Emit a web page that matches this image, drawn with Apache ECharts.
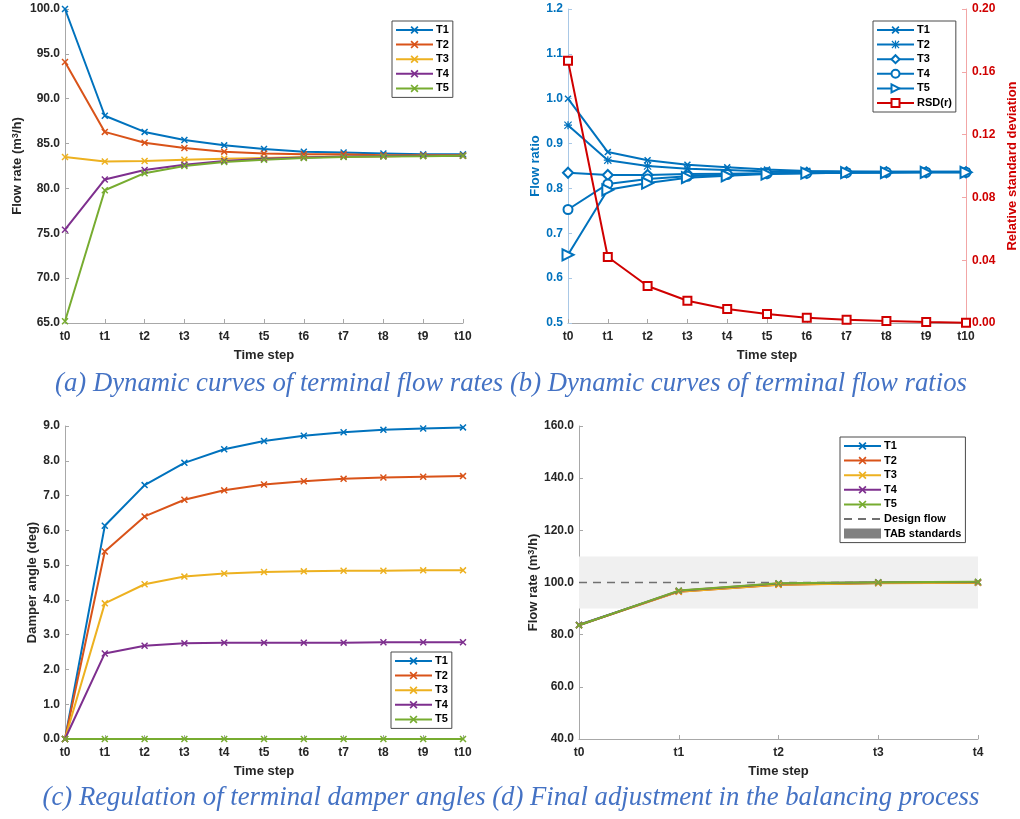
<!DOCTYPE html>
<html>
<head>
<meta charset="utf-8">
<title>Terminal flow balancing</title>
<script src="https://cdn.jsdelivr.net/npm/echarts@6/dist/echarts.min.js"></script>
<style>
  html, body { margin: 0; padding: 0; background: #fff; }
  #chart { width: 1020px; height: 819px; }
</style>
</head>
<body>
<div id="chart"></div>
<script>
// ---- categories ----
const steps = ['t0', 't1', 't2', 't3', 't4', 't5', 't6', 't7', 't8', 't9', 't10'];
const stepsFinal = ['t0', 't1', 't2', 't3', 't4'];
const terminals = ['T1', 'T2', 'T3', 'T4', 'T5'];

// ---- (a) terminal flow rates, m3/h ----
const flowT1 = [100.0, 88.1, 86.3, 85.4, 84.8, 84.4, 84.1, 84.0, 83.9, 83.8, 83.8];
const flowT2 = [94.1, 86.3, 85.1, 84.5, 84.1, 83.9, 83.8, 83.8, 83.7, 83.7, 83.7];
const flowT3 = [83.5, 83.0, 83.05, 83.2, 83.3, 83.4, 83.5, 83.55, 83.6, 83.65, 83.65];
const flowT4 = [75.4, 81.0, 82.05, 82.65, 83.05, 83.3, 83.45, 83.55, 83.6, 83.65, 83.65];
const flowT5 = [65.2, 79.8, 81.7, 82.5, 82.95, 83.2, 83.4, 83.5, 83.55, 83.6, 83.65];

// ---- (b) terminal flow ratios and their relative standard deviation ----
const ratioT1 = [1.000, 0.881, 0.863, 0.853, 0.847, 0.842, 0.839, 0.838, 0.837, 0.837, 0.837];
const ratioT2 = [0.941, 0.863, 0.850, 0.844, 0.841, 0.838, 0.838, 0.837, 0.837, 0.837, 0.837];
const ratioT3 = [0.835, 0.830, 0.830, 0.832, 0.833, 0.834, 0.835, 0.836, 0.836, 0.836, 0.836];
const ratioT4 = [0.753, 0.810, 0.821, 0.827, 0.831, 0.833, 0.834, 0.835, 0.836, 0.836, 0.836];
const ratioT5 = [0.652, 0.797, 0.812, 0.824, 0.828, 0.832, 0.834, 0.835, 0.835, 0.836, 0.836];
const rsd = [0.167, 0.042, 0.0236, 0.0142, 0.0089, 0.0057, 0.0034, 0.0021, 0.0013, 0.0006, 0.0002];

// ---- (c) damper angles, deg ----
const angleT1 = [0, 6.13, 7.30, 7.94, 8.33, 8.57, 8.72, 8.82, 8.89, 8.93, 8.96];
const angleT2 = [0, 5.39, 6.40, 6.88, 7.15, 7.32, 7.41, 7.48, 7.52, 7.54, 7.56];
const angleT3 = [0, 3.90, 4.45, 4.67, 4.76, 4.80, 4.82, 4.84, 4.84, 4.85, 4.85];
const angleT4 = [0, 2.46, 2.68, 2.75, 2.77, 2.77, 2.77, 2.77, 2.78, 2.78, 2.78];
const angleT5 = [0, 0, 0, 0, 0, 0, 0, 0, 0, 0, 0];

// ---- (d) final adjustment, m3/h ----
const finalT1 = [83.8, 96.6, 99.2, 99.8, 99.9];
const finalT2 = [83.7, 96.5, 99.1, 99.8, 99.9];
const finalT3 = [83.6, 96.5, 99.1, 99.7, 99.9];
const finalT4 = [83.6, 96.8, 99.6, 100.1, 100.2];
const finalT5 = [83.6, 96.9, 99.7, 100.1, 100.3];
const designFlow = [100, 100, 100, 100, 100];
const tabBand = [90, 110];

// ---- tick ranges ----
const flowAxis = { min: 65, max: 100, interval: 5 };
const ratioAxis = { min: 0.5, max: 1.2, interval: 0.1 };
const rsdAxis = { min: 0, max: 0.2, interval: 0.04 };
const angleAxis = { min: 0, max: 9, interval: 1 };
const finalAxis = { min: 40, max: 160, interval: 20 };

const colors = ['#0072BD', '#D95319', '#EDB120', '#7E2F8E', '#77AC30'];
const ratioBlue = '#0072BD';
const rsdRed = '#D00000';
const FONT = '"Liberation Sans", Arial, sans-serif';

const crossMark = 'path://M0,1.5L1.5,0L10,8.5L8.5,10ZM8.5,0L10,1.5L1.5,10L0,8.5Z';
const starMark = 'path://M0,4.2H10V5.8H0ZM4.2,0H5.8V10H4.2ZM1,0L10,9L9,10L0,1ZM9,0L10,1L1,10L0,9Z';

const grids = [
  { left: 65, top: 9, width: 398, height: 314 },
  { left: 568, top: 9, width: 399, height: 314 },
  { left: 65, top: 426, width: 398, height: 313 },
  { left: 579, top: 426, width: 399, height: 313 }
];

const labelStyle = { color: '#262626', fontWeight: 'bold', fontSize: 12, fontFamily: FONT };
const nameStyle = { color: '#262626', fontWeight: 'bold', fontSize: 13, fontFamily: FONT };
const supRich = {
  sup: { fontSize: 9, fontWeight: 'bold', fontFamily: FONT, color: '#262626', verticalAlign: 'top', lineHeight: 13 }
};

function xAxisCfg(gridIndex, cats) {
  return {
    type: 'category', gridIndex, data: cats, boundaryGap: false,
    axisLine: { show: true, lineStyle: { color: '#a8a8a8', width: 1 } },
    axisTick: { show: true, inside: true, length: 4, lineStyle: { color: '#a8a8a8' } },
    axisLabel: Object.assign({ margin: 8 }, labelStyle),
    splitLine: { show: false },
    name: 'Time step', nameLocation: 'middle', nameGap: 26, nameTextStyle: nameStyle
  };
}

function yAxisCfg(gridIndex, range, digits, name, gap, extra) {
  return Object.assign({
    type: 'value', gridIndex, min: range.min, max: range.max, interval: range.interval,
    axisLine: { show: true, lineStyle: { color: '#a8a8a8', width: 1 } },
    axisTick: { show: true, inside: true, length: 4, lineStyle: { color: '#a8a8a8' } },
    axisLabel: Object.assign({ margin: 5, formatter: v => v.toFixed(digits) }, labelStyle),
    splitLine: { show: false },
    name, nameLocation: 'middle', nameGap: gap,
    nameTextStyle: Object.assign({ rich: supRich }, nameStyle)
  }, extra || {});
}

function lineSeries(name, data, color, xi, yi, symbol, size, extra) {
  return Object.assign({
    type: 'line', name, data, xAxisIndex: xi, yAxisIndex: yi,
    color, symbol, symbolSize: size, showSymbol: true,
    lineStyle: { width: 2, color }, itemStyle: { color },
    animation: false, z: 3
  }, extra || {});
}

function legendCfg(names, left, top) {
  return {
    data: names, orient: 'vertical', left, top,
    backgroundColor: '#fff', borderColor: '#4a4a4a', borderWidth: 1,
    padding: [3.5, 4, 3.5, 3], itemGap: 3.6, itemWidth: 37, itemHeight: 10,
    formatter: n => n.slice(2),
    textStyle: { color: '#000', fontWeight: 'bold', fontSize: 11, lineHeight: 11, fontFamily: FONT, padding: [0, 0, 0, -2] },
    selectedMode: false
  };
}

const flowSets = [flowT1, flowT2, flowT3, flowT4, flowT5];
const ratioSets = [ratioT1, ratioT2, ratioT3, ratioT4, ratioT5];
const angleSets = [angleT1, angleT2, angleT3, angleT4, angleT5];
const finalSets = [finalT1, finalT2, finalT3, finalT4, finalT5];
const ratioMarks = [
  { symbol: crossMark, size: 7 },
  { symbol: starMark, size: 8 },
  { symbol: 'emptyDiamond', size: 10 },
  { symbol: 'emptyCircle', size: 9 },
  { symbol: 'emptyTriangle', size: 11, rotate: -90 }
];

const series = [];
// (a)
terminals.forEach((t, i) => series.push(lineSeries('a-' + t, flowSets[i], colors[i], 0, 0, crossMark, 7)));
// (b)
terminals.forEach((t, i) => series.push(lineSeries('b-' + t, ratioSets[i], ratioBlue, 1, 1,
  ratioMarks[i].symbol, ratioMarks[i].size, ratioMarks[i].rotate ? { symbolRotate: ratioMarks[i].rotate } : {})));
series.push(lineSeries('b-RSD(r)', rsd, rsdRed, 1, 2, 'emptyRect', 8, { z: 4 }));
// (c)
terminals.forEach((t, i) => series.push(lineSeries('c-' + t, angleSets[i], colors[i], 2, 3, crossMark, 7)));
// (d) tolerance band and design flow, then the terminals
series.push({
  type: 'line', name: 'd-Design flow', data: designFlow, xAxisIndex: 3, yAxisIndex: 4,
  showSymbol: false, symbol: 'none', color: '#707070',
  itemStyle: { color: '#707070', opacity: 0 },
  lineStyle: { type: [8, 6], width: 1.5, color: '#707070' }, animation: false, z: 2,
  markArea: {
    silent: true,
    itemStyle: { color: '#f0f0f0', opacity: 1 },
    data: [[{ coord: [stepsFinal[0], tabBand[0]] }, { coord: [stepsFinal[stepsFinal.length - 1], tabBand[1]] }]]
  }
});
series.push({
  type: 'bar', name: 'd-TAB standards', data: [], xAxisIndex: 3, yAxisIndex: 4,
  color: '#808080', itemStyle: { color: '#808080' }, animation: false
});
terminals.forEach((t, i) => series.push(lineSeries('d-' + t, finalSets[i], colors[i], 3, 4, crossMark, 7)));

const blueAxis = {
  axisLine: { show: true, lineStyle: { color: '#a9c8e6', width: 1 } },
  axisTick: { show: true, inside: true, length: 4, lineStyle: { color: '#a9c8e6' } }
};
const redAxis = {
  position: 'right',
  axisLine: { show: true, lineStyle: { color: '#f2a6a6', width: 1 } },
  axisTick: { show: true, inside: true, length: 4, lineStyle: { color: '#f2a6a6' } }
};

const yRatio = yAxisCfg(1, ratioAxis, 1, 'Flow ratio', 25, blueAxis);
yRatio.axisLabel.color = ratioBlue;
yRatio.nameTextStyle.color = ratioBlue;
const yRsd = yAxisCfg(1, rsdAxis, 2, 'Relative standard deviation', 40, redAxis);
yRsd.axisLabel.color = rsdRed;
yRsd.axisLabel.margin = 6;
yRsd.nameTextStyle.color = rsdRed;
yRsd.nameRotate = 90;

const captionFont = 'italic 28px "Liberation Serif", "Times New Roman", serif';

const option = {
  backgroundColor: '#fff',
  animation: false,
  grid: grids,
  xAxis: [xAxisCfg(0, steps), xAxisCfg(1, steps), xAxisCfg(2, steps), xAxisCfg(3, stepsFinal)],
  yAxis: [
    yAxisCfg(0, flowAxis, 1, 'Flow rate (m{sup|3}/h)', 41),
    yRatio,
    yRsd,
    yAxisCfg(2, angleAxis, 1, 'Damper angle (deg)', 24),
    yAxisCfg(3, finalAxis, 1, 'Flow rate (m{sup|3}/h)', 39)
  ],
  legend: [
    legendCfg(terminals.map(t => 'a-' + t), 392, 21),
    legendCfg(terminals.map(t => 'b-' + t).concat(['b-RSD(r)']), 873, 21),
    legendCfg(terminals.map(t => 'c-' + t), 391, 652),
    legendCfg(terminals.map(t => 'd-' + t).concat([
      'd-Design flow', { name: 'd-TAB standards', icon: 'rect' }
    ]), 840, 437)
  ],
  graphic: [
    {
      type: 'text', x: 511, y: 383.5, scaleX: 0.954,
      style: {
        text: '(a) Dynamic curves of terminal flow rates (b) Dynamic curves of terminal flow ratios',
        fill: '#4472C4', font: captionFont,
        textAlign: 'center', textVerticalAlign: 'middle'
      }
    },
    {
      type: 'text', x: 511, y: 798, scaleX: 0.954,
      style: {
        text: '(c) Regulation of terminal damper angles (d) Final adjustment in the balancing process',
        fill: '#4472C4', font: captionFont,
        textAlign: 'center', textVerticalAlign: 'middle'
      }
    }
  ],
  series
};

const chart = echarts.init(document.getElementById('chart'), null, { renderer: 'canvas' });
chart.setOption(option);
</script>
</body>
</html>
